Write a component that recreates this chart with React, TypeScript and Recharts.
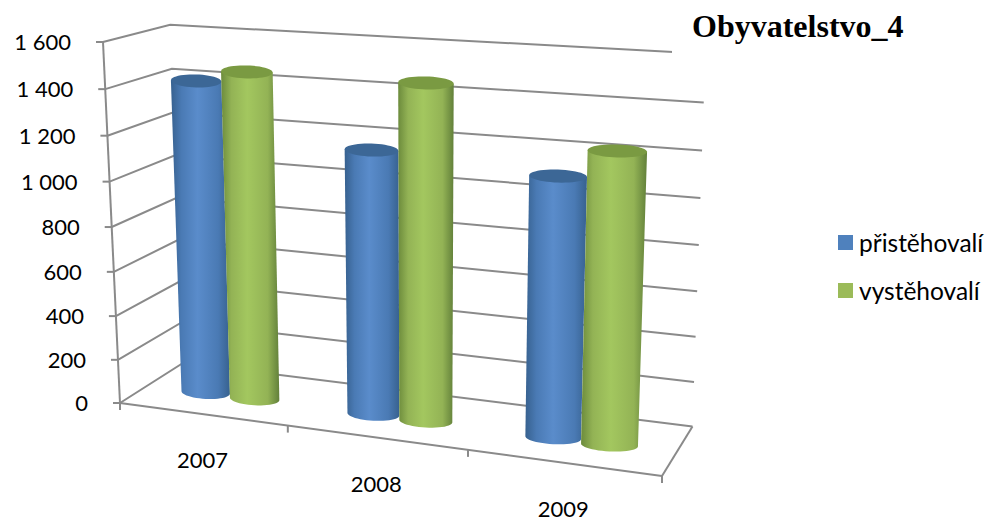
import { BarChart, Bar, XAxis, YAxis, CartesianGrid, Legend } from "recharts";

const years = ["2007", "2008", "2009"];
const immigrants = [1413, 1169, 1121];
const emigrants = [1466, 1467, 1242];
const yTicks = [0, 200, 400, 600, 800, 1000, 1200, 1400, 1600];

const chartData = years.map((year, i) => ({
  year,
  immigrants: immigrants[i],
  emigrants: emigrants[i],
}));

const WIDTH = 994;
const HEIGHT = 521;
const PLOT = { left: 120, top: 42, width: 542, height: 361 };
const LINE = "#8a8a8a";
const LINE_WIDTH = 2;
const FONT = "Lato, sans-serif";

// Images of the box corners, and the perspective weight along each box edge.
const ORIGIN = [120, 403];
const X_END = [662, 476];
const Y_END = [103, 42];
const Z_END = [183, 363];
const WX = 0.897;
const WY = 0.951;
const WZ = 1.07;
const BAR_DEPTH = 0.43;
const CAP_RISE = 6.5;
const CAP_TILT = 0.4;

type Pt = [number, number];

// u along the categories, v up the value axis, w from the front edge to the back wall
function project(u: number, v: number, w: number): Pt {
  const weight = 1 + u * (WX - 1) + v * (WY - 1) + w * (WZ - 1);
  const coord = (k: number) =>
    ORIGIN[k] +
    u * (WX * X_END[k] - ORIGIN[k]) +
    v * (WY * Y_END[k] - ORIGIN[k]) +
    w * (WZ * Z_END[k] - ORIGIN[k]);
  return [coord(0) / weight, coord(1) / weight];
}

const flatU = (x: number) => (x - PLOT.left) / PLOT.width;
const flatV = (y: number) => (PLOT.top + PLOT.height - y) / PLOT.height;
const polyline = (pts: Pt[]) => pts.map((p) => `${p[0].toFixed(2)},${p[1].toFixed(2)}`).join(" ");

function Segment({ from, to }: { from: Pt; to: Pt }) {
  return <line x1={from[0]} y1={from[1]} x2={to[0]} y2={to[1]} stroke={LINE} strokeWidth={LINE_WIDTH} />;
}

// One grid value: side wall segment plus back wall segment
function WallLine(props: any) {
  const v = flatV(props.y1);
  return (
    <polyline
      points={polyline([project(0, v, 0), project(0, v, 1), project(1, v, 1)])}
      fill="none"
      stroke={LINE}
      strokeWidth={LINE_WIDTH}
    />
  );
}

// Axis lines and floor outline
function Frame() {
  const catTicks = years.map((_, i) => i / years.length).concat(1);
  return (
    <g>
      <Segment from={project(0, 0, 0)} to={project(0, 1, 0)} />
      <Segment from={project(0, 0, 0)} to={project(1, 0, 0)} />
      <Segment from={project(1, 0, 0)} to={project(1, 0, 1)} />
      {catTicks.map((u) => {
        const p = project(u, 0, 0);
        return <Segment key={u} from={p} to={[p[0], p[1] + 7]} />;
      })}
    </g>
  );
}

function ValueTick({ y, payload }: any) {
  const p = project(0, flatV(y), 0);
  const label = String(payload.value).replace(/\B(?=(\d{3})+$)/g, "\u00a0");
  return (
    <g>
      <Segment from={[p[0] - 7, p[1]]} to={p} />
      <text
        x={p[0] - 32}
        y={p[1] + 8}
        textAnchor="end"
        fontFamily={FONT}
        fontSize={22}
        fill="#000"
      >
        {label}
      </text>
    </g>
  );
}

function YearTick({ x, payload }: any) {
  const p = project(flatU(x), 0, 0);
  return (
    <text x={p[0]} y={p[1] + 54} textAnchor="middle" fontFamily={FONT} fontSize={22} fill="#000">
      {payload.value}
    </text>
  );
}

// Rim of the cylinder: the diameter follows the floor, the depth is a fixed rise on screen.
// The small sideways drift keeps the columns a little more upright than the walls.
function rim(u: number, v: number, ru: number): Pt[] {
  const pts: Pt[] = [];
  const steps = 48;
  const centerY = project(u, v, BAR_DEPTH)[1];
  for (let i = 0; i < steps; i++) {
    const t = (i / steps) * Math.PI * 2;
    const p = project(u + ru * Math.cos(t), v, BAR_DEPTH);
    pts.push([p[0] + 1.5 + 1.5 * v, centerY + (p[1] - centerY) * CAP_TILT - CAP_RISE * Math.sin(t)]);
  }
  return pts;
}

function Cylinder({ x, y, width, gradient, cap }: any) {
  const u = flatU(x + width / 2);
  const ru = width / 2 / PLOT.width;
  const top = rim(u, flatV(y), ru);
  const base = rim(u, 0, ru);

  // silhouette: across the top, down the right side, round the front of the base
  const steps = base.length;
  const body: Pt[] = [top[steps / 2], top[0]];
  for (let i = steps; i >= steps / 2; i--) body.push(base[i % steps]);

  return (
    <g>
      <polygon points={polyline(body)} fill={`url(#${gradient})`} />
      <polygon points={polyline(top)} fill={cap} />
    </g>
  );
}

function LegendList({ payload }: any) {
  return (
    <div style={{ fontFamily: FONT, fontSize: 24.5, color: "#000" }}>
      {(payload || []).map((entry: any) => (
        <div key={entry.value} style={{ display: "flex", alignItems: "center", height: 48 }}>
          <span style={{ width: 15, height: 15, background: entry.color, marginRight: 6 }} />
          {entry.value}
        </div>
      ))}
    </div>
  );
}

export default function App() {
  return (
    <div style={{ position: "absolute", left: 0, top: 0, width: WIDTH, height: HEIGHT, background: "#fff" }}>
      <BarChart
        width={WIDTH}
        height={HEIGHT}
        data={chartData}
        margin={{
          left: PLOT.left - 1,
          top: PLOT.top,
          right: WIDTH - PLOT.left - PLOT.width,
          bottom: HEIGHT - PLOT.top - PLOT.height - 1,
        }}
        barCategoryGap="20%"
        barGap={0}
      >
        <defs>
          <linearGradient id="blueBody" x1="0" y1="0" x2="1" y2="0">
            <stop offset="0%" stopColor="#37618f" />
            <stop offset="18%" stopColor="#4a7ab4" />
            <stop offset="45%" stopColor="#5a8ccb" />
            <stop offset="80%" stopColor="#4a7ab4" />
            <stop offset="100%" stopColor="#37618f" />
          </linearGradient>
          <linearGradient id="greenBody" x1="0" y1="0" x2="1" y2="0">
            <stop offset="0%" stopColor="#6c8b3c" />
            <stop offset="18%" stopColor="#93b355" />
            <stop offset="45%" stopColor="#a3c75f" />
            <stop offset="80%" stopColor="#93b355" />
            <stop offset="100%" stopColor="#62803a" />
          </linearGradient>
        </defs>
        <CartesianGrid vertical={false} horizontal={(p: any) => <WallLine key={p.key} {...p} />} />
        <XAxis dataKey="year" height={1} axisLine={false} tickLine={false} interval={0} tick={<YearTick />} />
        <YAxis
          width={1}
          domain={[0, 1600]}
          ticks={yTicks}
          interval={0}
          axisLine={false}
          tickLine={false}
          tick={<ValueTick />}
        />
        <Frame />
        <Legend
          layout="vertical"
          align="center"
          verticalAlign="middle"
          wrapperStyle={{ position: "absolute", left: 838, top: 218, width: 156 }}
          content={<LegendList />}
        />
        <Bar
          dataKey="immigrants"
          name="přistěhovalí"
          fill="#4f81bd"
          isAnimationActive={false}
          shape={(p: any) => <Cylinder {...p} gradient="blueBody" cap="#3c6796" />}
        />
        <Bar
          dataKey="emigrants"
          name="vystěhovalí"
          fill="#9bbb59"
          isAnimationActive={false}
          shape={(p: any) => <Cylinder {...p} gradient="greenBody" cap="#7a9a42" />}
        />
      </BarChart>
      <div
        style={{
          position: "absolute",
          left: 672,
          top: 8,
          width: 322,
          height: 50,
          background: "#fff",
          fontFamily: "'Liberation Serif', serif",
          fontWeight: "bold",
          fontSize: 32,
          lineHeight: "36px",
          paddingLeft: 20,
          boxSizing: "border-box",
        }}
      >
        Obyvatelstvo_4
      </div>
    </div>
  );
}
